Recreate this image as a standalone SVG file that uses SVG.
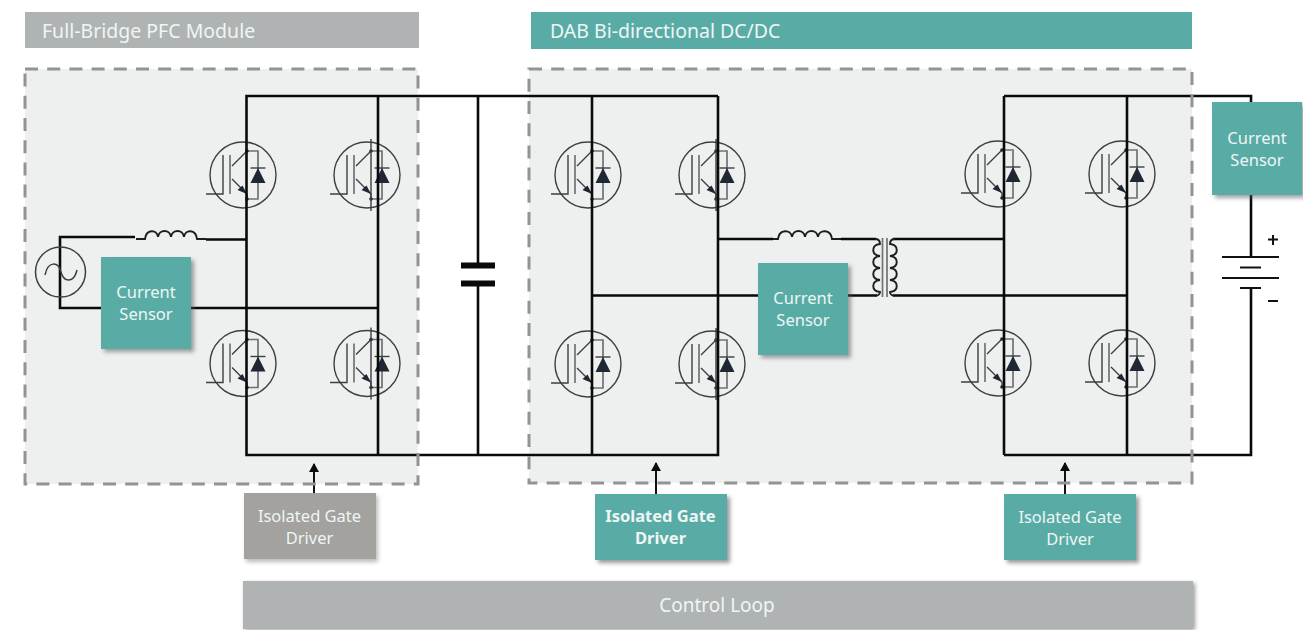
<svg xmlns="http://www.w3.org/2000/svg" width="1303" height="630" viewBox="0 0 1303 630">
<style>
text{font-family:"Noto Sans","Open Sans","Liberation Sans",sans-serif;text-anchor:middle;fill:#eef6f5}
.lbl{font-size:16.5px}
.hdr{font-size:19.5px;text-anchor:start}
.teal{fill:#59aca5}
.gray{fill:#b0b3b3}
.drv{fill:#a3a29e}
.zone{fill:#eeefef}
.dash{fill:none;stroke:#929494;stroke-width:3;stroke-dasharray:13 9.2}
.w{fill:none;stroke:#0a0a0a;stroke-width:2.6}
.t{fill:none;stroke:#111;stroke-width:2}
.s{fill:none;stroke:#3c3f42;stroke-width:1.4}
.c{fill:none;stroke:#1a1c1e;stroke-width:1.9}
.g{fill:none;stroke:#6f7274;stroke-width:1.7}
.d{fill:#1f2733;stroke:none}
</style>
<defs>
<filter id="sh" x="-15%" y="-15%" width="135%" height="135%"><feGaussianBlur stdDeviation="2.2"/></filter>
<marker id="ah" markerWidth="11" markerHeight="11" refX="8" refY="5" orient="auto" markerUnits="userSpaceOnUse"><path d="M0 0L9 5L0 10Z" fill="#0a0a0a"/></marker>
<g id="igbt">
<circle class="s" r="33"/>
<path class="s" d="M-37 19H-20V-20M-11-9L4-24M-11 4L4 19V24"/>
<path class="g" d="M-13-20V19"/>
<path class="g" d="M4-24H15V24H4"/>
<path class="d" d="M4 19L-5.500 15L-0.500 10.500Z"/>
<circle class="d" cx="4" cy="-24" r="1.8"/>
<circle class="d" cx="4" cy="24" r="1.8"/>
<path class="s" d="M7.500-7H22.500"/>
<path class="d" d="M15-7L22.500 8H7.500Z"/>
</g>
<path id="stub" class="s" d="M4-36V36"/>
</defs>

<g id="zone-pfc-fill"><rect class="zone" x="25" y="69" width="393" height="415"/></g>
<g id="zone-dab-fill"><rect class="zone" x="529" y="69" width="663" height="414"/></g>

<g id="header-pfc"><rect class="gray" x="25" y="12" width="394" height="36"/><text class="hdr" x="42" y="37.500">Full-Bridge PFC Module</text></g>
<g id="header-dab"><rect class="teal" x="531" y="12" width="661" height="37"/><text class="hdr" x="550" y="37.500">DAB Bi-directional DC/DC</text></g>

<g id="switches">
<use href="#igbt" x="243" y="175"/>
<use href="#igbt" x="367" y="175"/><use href="#stub" x="367" y="175"/>
<use href="#igbt" x="243" y="363.500"/>
<use href="#igbt" x="367" y="363.500"/><use href="#stub" x="367" y="363.500"/>
<use href="#igbt" x="588" y="175"/>
<use href="#igbt" x="712" y="175"/><use href="#stub" x="712" y="175"/>
<use href="#igbt" x="588" y="364"/>
<use href="#igbt" x="712" y="364"/><use href="#stub" x="712" y="364"/>
<use href="#igbt" x="998" y="174"/>
<use href="#igbt" x="1122" y="174"/>
<use href="#igbt" x="998" y="363"/>
<use href="#igbt" x="1122" y="363"/>
</g>

<g id="connectors">
<path class="w" d="M718 96H246.500V455H718V96"/>
<path class="w" d="M378 96V455M592 96V455M478 96V265M478 283V455"/>
<path class="w" d="M1004 96V455M1127 96V455M1004 96H1251V102M1251 195V257M1251 288V455H1004"/>
<path class="w" d="M135 237H60V308H101M191 308H378M206 239.500H246.500"/>
<path class="w" d="M718 239H773M841 239H876M893 239H1004M592 295.500H758M848 295.500H877M893 295.500H1127"/>
<path class="c" d="M136 239H145C146 229 157 229 158 237C159 229 170 229 171 237C172 229 183 229 184 237C185 229 196 229 197 239H206"/>
<path class="c" d="M773 239H778C779 229 791 229 792 237C793 229 804 229 805 237C806 229 817 229 818 237C819 229 831 229 832 239H841"/>
<path class="c" d="M875 239C878 239 880 241 880 244C871 245 871 255 880 256C871 257 871 267 880 268C871 269 871 279 880 280C871 281 871 291 880 292C880 294 878 295.500 876 295.500"/>
<path class="c" d="M895 239C892 239 890 241 890 244C899 245 899 255 890 256C899 257 899 267 890 268C899 269 899 279 890 280C899 281 899 291 890 292C890 294 892 295.500 894 295.500"/>
<path class="g" d="M882.500 238V297M887 238V297"/>
<path class="t" d="M314 494V464" marker-end="url(#ah)"/>
<path class="t" d="M656 494V463" marker-end="url(#ah)"/>
<path class="t" d="M1065 494V463" marker-end="url(#ah)"/>
</g>

<g id="zone-pfc"><rect class="dash" x="25" y="69" width="393" height="415"/></g>
<g id="zone-dab"><rect class="dash" x="529" y="69" width="663" height="414"/></g>

<g id="ac-source">
<circle class="s" style="stroke-width:1.5" cx="60.500" cy="272" r="25"/>
<path class="s" style="stroke-width:1.5" d="M45 275C48 261 58 261 61 272C64 283 74 283 77 270"/>
</g>

<g id="capacitor"><path d="M461 265.500H495M461 283.500H495" fill="none" stroke="#0a0a0a" stroke-width="6"/></g>

<g id="battery">
<path class="t" d="M1222 257H1279M1240 267.500H1261M1222 278H1279M1240 288H1261"/>
<path class="t" d="M1268 239.500H1278M1273 235V245M1268 301H1278"/>
</g>

<g id="sensor-pfc"><rect x="104" y="260" width="90" height="92" fill="#555" opacity=".55" filter="url(#sh)"/><rect class="teal" x="101" y="257" width="90" height="92"/><text class="lbl" x="146" y="297.500">Current</text><text class="lbl" x="146" y="319.500">Sensor</text></g>
<g id="sensor-dab"><rect x="761" y="266" width="90" height="92" fill="#555" opacity=".55" filter="url(#sh)"/><rect class="teal" x="758" y="263" width="90" height="92"/><text class="lbl" x="803" y="303.500">Current</text><text class="lbl" x="803" y="325.500">Sensor</text></g>
<g id="sensor-out"><rect x="1215" y="105" width="90" height="93" fill="#555" opacity=".55" filter="url(#sh)"/><rect class="teal" x="1212" y="102" width="90" height="93"/><text class="lbl" x="1257" y="143.500">Current</text><text class="lbl" x="1257" y="165.500">Sensor</text></g>

<g id="driver-pfc"><rect x="246" y="496" width="132" height="66" fill="#777" opacity=".5" filter="url(#sh)"/><rect class="drv" x="244" y="493" width="132" height="66"/><text class="lbl" x="309.500" y="522">Isolated Gate</text><text class="lbl" x="309.500" y="544">Driver</text></g>
<g id="driver-dab1"><rect x="598" y="497" width="132" height="66" fill="#555" opacity=".6" filter="url(#sh)"/><rect class="teal" x="595" y="494" width="132" height="66"/><text class="lbl" x="660.500" y="522" font-weight="700">Isolated Gate</text><text class="lbl" x="660.500" y="544" font-weight="700">Driver</text></g>
<g id="driver-dab2"><rect x="1007" y="497" width="132" height="66" fill="#555" opacity=".6" filter="url(#sh)"/><rect class="teal" x="1004" y="494" width="132" height="66"/><text class="lbl" x="1070" y="523">Isolated Gate</text><text class="lbl" x="1070" y="545">Driver</text></g>

<g id="control-loop"><rect x="245" y="583" width="950" height="47" fill="#555" opacity=".6" filter="url(#sh)"/><rect class="gray" x="243" y="581" width="950" height="48"/><text x="717" y="612" font-size="19">Control Loop</text></g>
</svg>
